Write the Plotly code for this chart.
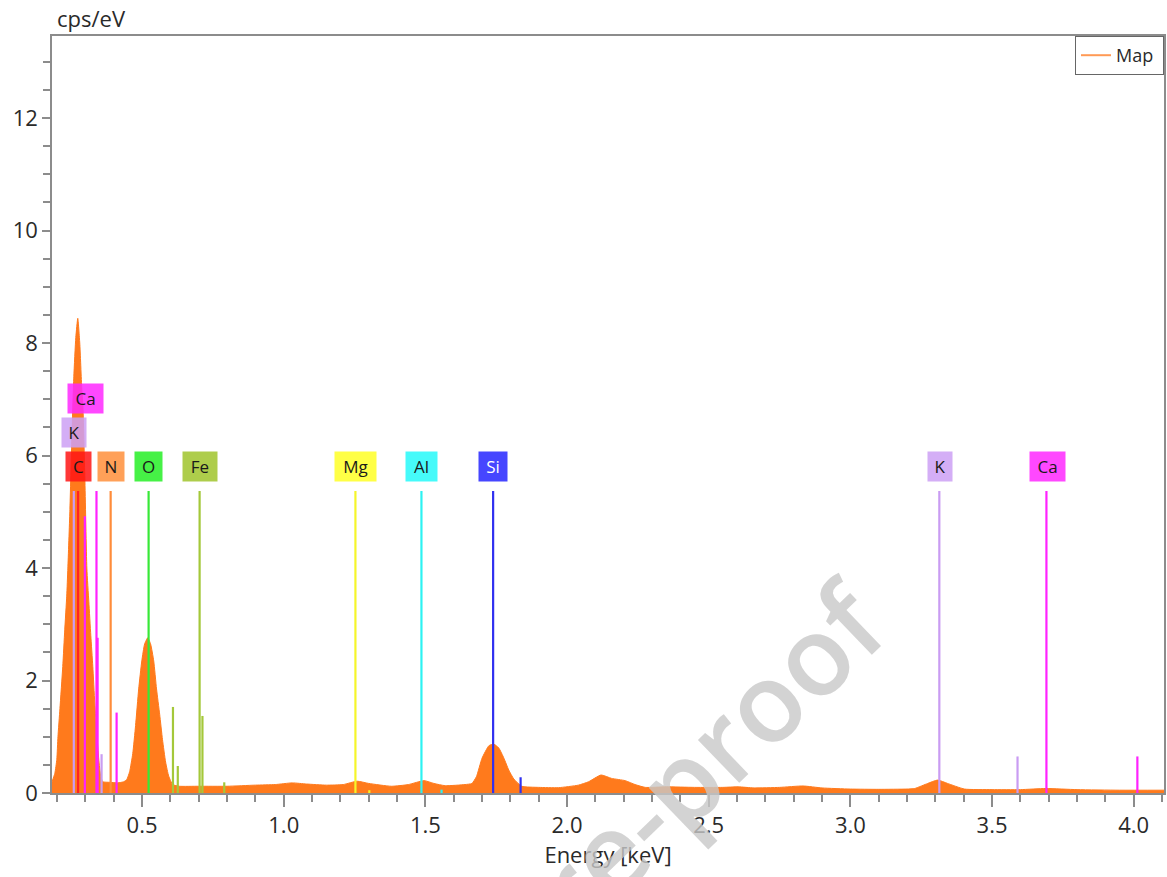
import plotly.graph_objects as go

# EDS spectrum (energy in keV, intensity in cps/eV)
energy_keV = [
    0.182, 0.192, 0.199, 0.203, 0.210, 0.220, 0.227, 0.234, 0.238, 0.245,
    0.252, 0.259, 0.266, 0.273, 0.280, 0.287, 0.291, 0.298, 0.305, 0.312,
    0.319, 0.326, 0.333, 0.340, 0.347, 0.354, 0.361, 0.386, 0.414, 0.435,
    0.446, 0.456, 0.467, 0.477, 0.488, 0.499, 0.509, 0.520, 0.530, 0.541,
    0.551, 0.562, 0.572, 0.583, 0.594, 0.608, 0.632, 0.700, 0.800, 0.900,
    0.970, 1.030, 1.080, 1.150, 1.210, 1.259, 1.300, 1.380, 1.440, 1.495,
    1.530, 1.570, 1.640, 1.664, 1.680, 1.700, 1.724, 1.741, 1.759, 1.777,
    1.794, 1.812, 1.840, 1.900, 1.970, 2.040, 2.076, 2.120, 2.157, 2.205,
    2.240, 2.276, 2.350, 2.450, 2.550, 2.604, 2.660, 2.750, 2.833, 2.900,
    3.000, 3.100, 3.200, 3.227, 3.273, 3.308, 3.343, 3.403, 3.500, 3.600,
    3.690, 3.800, 3.950, 4.107,
]
counts_cps = [
    0.20, 0.35, 0.60, 1.00, 1.50, 2.25, 2.90, 3.50, 4.00, 5.00,
    6.30, 7.40, 8.10, 8.44, 8.00, 7.20, 6.90, 5.60, 4.00, 3.40,
    2.80, 2.25, 1.60, 1.08, 0.60, 0.30, 0.20, 0.19, 0.18, 0.20,
    0.24, 0.38, 0.70, 1.20, 1.85, 2.35, 2.65, 2.76, 2.65, 2.35,
    1.85, 1.40, 0.95, 0.55, 0.30, 0.15, 0.12, 0.12, 0.12, 0.14,
    0.15, 0.18, 0.16, 0.14, 0.15, 0.21, 0.17, 0.12, 0.15, 0.22,
    0.17, 0.13, 0.15, 0.17, 0.29, 0.62, 0.84, 0.87, 0.80, 0.62,
    0.41, 0.25, 0.12, 0.10, 0.095, 0.14, 0.20, 0.32, 0.26, 0.22,
    0.15, 0.10, 0.11, 0.10, 0.10, 0.11, 0.09, 0.10, 0.125, 0.09,
    0.07, 0.065, 0.07, 0.08, 0.17, 0.23, 0.17, 0.07, 0.06, 0.06,
    0.08, 0.06, 0.05, 0.05,
]

# Element line markers (element, energy keV, marker height)
line_element = ["K", "K", "K", "K",
                "C",
                "Ca", "Ca", "Ca", "Ca", "Ca", "Ca",
                "N", "O",
                "Fe", "Fe", "Fe", "Fe", "Fe",
                "Mg", "Mg", "Al", "Al", "Si", "Si"]
line_energy = [0.259, 0.357, 3.314, 3.590,
               0.274,
               0.298, 0.339, 0.343, 0.410, 3.692, 4.013,
               0.389, 0.523,
               0.609, 0.626, 0.703, 0.713, 0.790,
               1.253, 1.302, 1.486, 1.557, 1.739, 1.836]
line_height = [5.37, 0.69, 5.37, 0.65,
               5.37,
               4.92, 5.37, 2.76, 1.43, 5.37, 0.65,
               5.37, 5.37,
               1.53, 0.48, 5.37, 1.37, 0.19,
               5.37, 0.05, 5.37, 0.06, 5.37, 0.28]

# Element labels (element, energy keV, label level)
label_element = ["C", "K", "Ca", "N", "O", "Fe", "Mg", "Al", "Si", "K", "Ca"]
label_energy = [0.275, 0.259, 0.300, 0.389, 0.521, 0.703, 1.254, 1.486, 1.738, 3.316, 3.696]
label_level = [5.80, 6.41, 7.02, 5.80, 5.80, 5.80, 5.80, 5.80, 5.80, 5.80, 5.80]

# Styling per element: line colour, box colour, text colour, box width (px)
element_style = {
    "C":  ("#ff2222", "rgba(255,20,20,0.85)", "#1a1a1a", 25),
    "N":  ("#ff8c3a", "rgba(255,150,70,0.9)", "#1a1a1a", 26),
    "O":  ("#38e838", "rgba(50,240,50,0.9)", "#1a1a1a", 27),
    "Fe": ("#a4c83a", "rgba(165,200,55,0.9)", "#1a1a1a", 34),
    "Mg": ("#f5f52a", "rgba(255,255,50,0.9)", "#1a1a1a", 41),
    "Al": ("#2cf2f2", "rgba(50,250,250,0.9)", "#1a1a1a", 31),
    "Si": ("#3030f0", "rgba(60,60,255,0.95)", "#ffffff", 28),
    "K":  ("#c99cf2", "rgba(205,160,245,0.85)", "#1a1a1a", 24),
    "Ca": ("#ff22ff", "rgba(255,40,255,0.85)", "#1a1a1a", 35),
}

SPECTRUM = "#ff7a1c"
AXIS = "#8c8c8c"
TEXT = "#2a2a2a"
FONT = "'Open Sans', sans-serif"

fig = go.Figure()

fig.add_trace(go.Scatter(
    x=energy_keV, y=counts_cps, mode="lines",
    line=dict(color=SPECTRUM, width=1, shape="spline", smoothing=0.5),
    fill="tozeroy", fillcolor=SPECTRUM, showlegend=False, hoverinfo="skip",
))

# vertical element markers, one trace per element
for el in dict.fromkeys(line_element):
    xs, ys = [], []
    for e, en, h in zip(line_element, line_energy, line_height):
        if e == el:
            xs += [en, en, None]
            ys += [0, h, None]
    fig.add_trace(go.Scatter(
        x=xs, y=ys, mode="lines",
        line=dict(color=element_style[el][0], width=2.2),
        showlegend=False, hoverinfo="skip",
    ))

# legend entry
fig.add_trace(go.Scatter(
    x=[None], y=[None], mode="lines", name="Map ",
    line=dict(color="#ff9a55", width=2),
))

annotations = []
for el, en, lv in zip(label_element, label_energy, label_level):
    line_c, box_c, txt_c, w = element_style[el]
    annotations.append(dict(
        x=en, y=lv, xref="x", yref="y", text=el, showarrow=False,
        bgcolor=box_c, width=w, height=29, borderpad=0,
        font=dict(family=FONT, size=17, color=txt_c),
        xanchor="center", yanchor="middle",
    ))

# y-axis unit label above the axis
annotations.append(dict(
    x=0, y=1, xref="paper", yref="paper", text="cps/eV", showarrow=False,
    xanchor="left", yanchor="bottom", xshift=3, yshift=1,
    font=dict(family=FONT, size=22, color=TEXT),
))

# pre-proof watermark
annotations.append(dict(
    x=0.432, y=-0.172, xref="paper", yref="paper", text="Journal Pre-proof",
    showarrow=False, textangle=-44, xanchor="center", yanchor="middle",
    font=dict(family=FONT, size=110, weight=600, color="rgba(200,200,200,0.8)"),
))

fig.update_layout(
    width=1167, height=877,
    margin=dict(l=52, r=1, t=36, b=84),
    paper_bgcolor="white", plot_bgcolor="white",
    font=dict(family=FONT, size=22, color=TEXT),
    showlegend=True,
    legend=dict(
        x=1, y=1, xanchor="right", yanchor="top",
        bgcolor="white", bordercolor="#666666", borderwidth=1,
        font=dict(family=FONT, size=18, color=TEXT),
    ),
    annotations=annotations,
    xaxis=dict(
        range=[0.182, 4.107], showgrid=False, zeroline=False,
        showline=True, linecolor=AXIS, linewidth=1.5, mirror=True,
        ticks="outside", ticklen=12, tickwidth=1.5, tickcolor=AXIS,
        tick0=0, dtick=0.5, tickformat=".1f",
        minor=dict(ticks="outside", dtick=0.1, ticklen=7, tickwidth=1.5, tickcolor=AXIS),
        tickfont=dict(family=FONT, size=22, color=TEXT),
        title=dict(text="Energy [keV]", standoff=6,
                   font=dict(family=FONT, size=22, color=TEXT)),
    ),
    yaxis=dict(
        range=[0, 13.46], showgrid=False, zeroline=False,
        showline=True, linecolor=AXIS, linewidth=1.5, mirror=True,
        ticks="outside", ticklen=8, tickwidth=1.5, tickcolor=AXIS,
        tick0=0, dtick=2,
        minor=dict(ticks="outside", dtick=0.5, ticklen=7, tickwidth=1.5, tickcolor=AXIS),
        tickfont=dict(family=FONT, size=22, color=TEXT),
    ),
)

fig.write_html("out.html")
